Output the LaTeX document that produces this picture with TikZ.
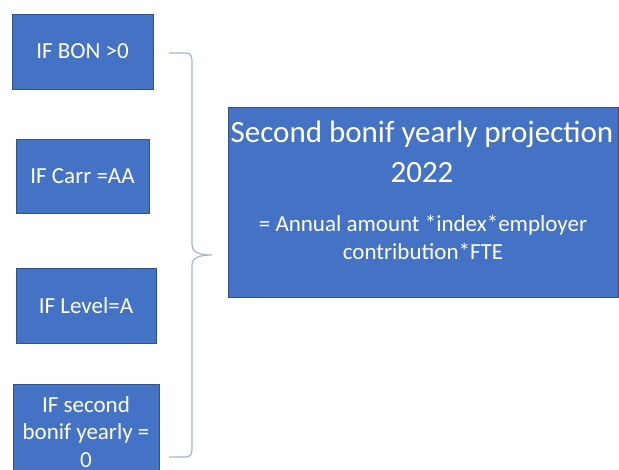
\documentclass[tikz,border=0pt]{standalone}
\usepackage{fontspec}
\setmainfont{Carlito}
\usetikzlibrary{positioning}
\definecolor{boxblue}{HTML}{4472C4}
\definecolor{boxline}{HTML}{2F528F}
\definecolor{bracecol}{RGB}{165,180,210}

\begin{document}
\begin{tikzpicture}[x=1pt,y=-1pt,
    cond/.style={draw=boxline,fill=boxblue,text=white,line width=0.8pt,
        align=center,inner sep=0pt,font=\fontsize{23}{27.5}\selectfont},
    txt/.style={text=white,align=center,inner sep=0pt,anchor=base},
    brace/.style={draw=bracecol,line width=1.2pt}]
  \clip (0,0) rectangle (619,470);
  % conditions
  \node[cond,minimum width=141,minimum height=75] (bon) at (82.5,51.5) {IF BON >0};
  \node[cond,minimum width=133,minimum height=74] (carr) at (82.5,176) {IF Carr =AA};
  \node[cond,minimum width=140,minimum height=75] (level) at (86,305.5) {IF Level=A};
  \node[cond,minimum width=146,minimum height=96] (second) at (86,432)
      {IF second\\bonif yearly =\\0};
  % result
  \node[cond,minimum width=390,minimum height=190] (proj) at (423,202) {};
  \node[txt,font=\fontsize{31}{40}\selectfont] (projtitle) at (422,183)
      {Second bonif yearly projection\\2022};
  \node[txt,font=\fontsize{23}{28}\selectfont] (projformula) at (423,260)
      {= Annual amount *index*employer\\contribution*FTE};
  % brace
  \coordinate (bt) at (169,53);
  \coordinate (bb) at (169,457);
  \coordinate (tip) at (212,255);
  \draw[brace] (bt) -- (185,53) .. controls (190,53) and (192,55) .. (192,61)
      -- (192,244) .. controls (192,252) and (198,255) .. (tip)
      .. controls (198,255) and (192,258) .. (192,266)
      -- (192,449) .. controls (192,455) and (190,457) .. (185,457) -- (bb);
\end{tikzpicture}
\end{document}
